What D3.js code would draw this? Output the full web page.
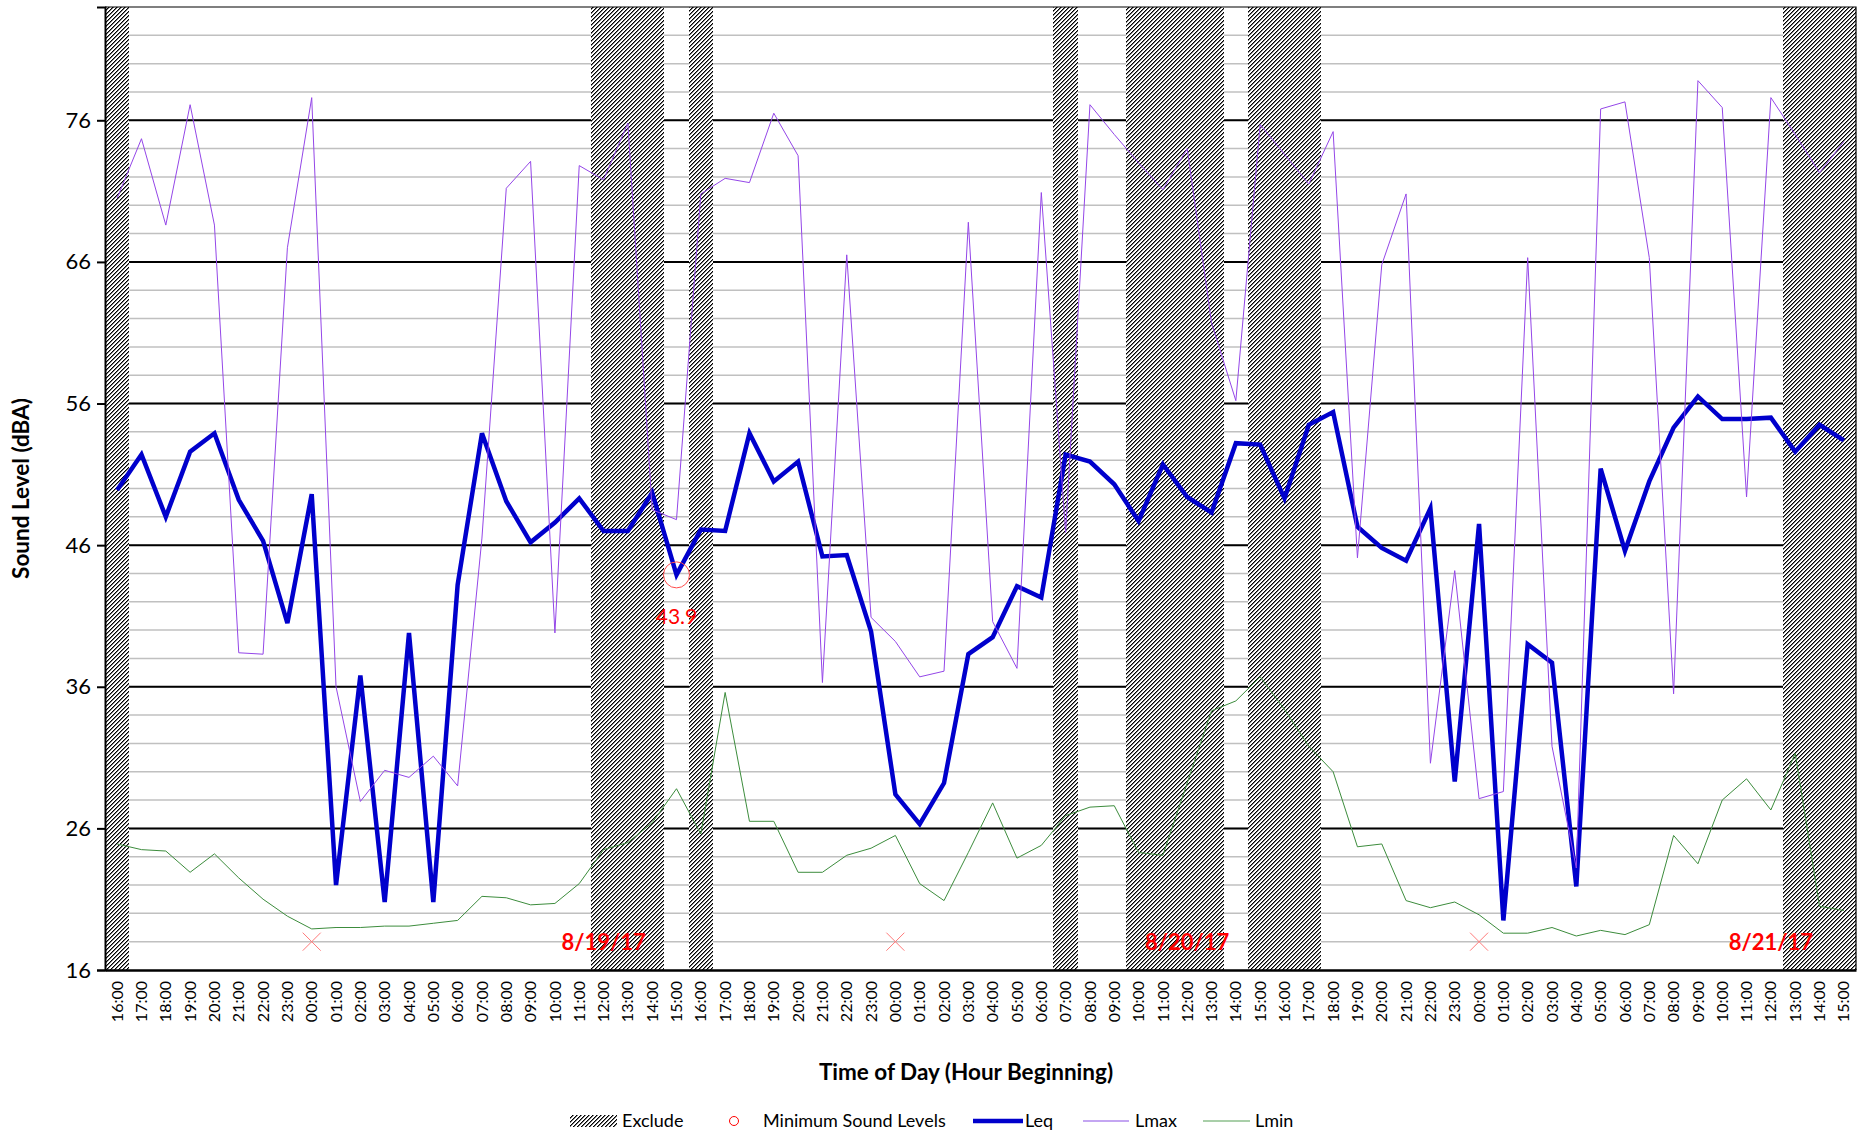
<!DOCTYPE html>
<html>
<head>
<meta charset="utf-8">
<script src="https://cdn.jsdelivr.net/npm/d3@7/dist/d3.min.js"></script>
<style>
  body { margin: 0; background: #fff; }
  svg text { font-family: Lato, 'Open Sans', sans-serif; }
</style>
</head>
<body>
<svg id="chart" width="1874" height="1133"></svg>
<script>
// hour-beginning labels, 16:00 on 8/18 through 15:00 on 8/21
const hours = [
  '16:00','17:00','18:00','19:00','20:00','21:00','22:00','23:00',
  '00:00','01:00','02:00','03:00','04:00','05:00','06:00','07:00','08:00','09:00','10:00','11:00',
  '12:00','13:00','14:00','15:00','16:00','17:00','18:00','19:00','20:00','21:00','22:00','23:00',
  '00:00','01:00','02:00','03:00','04:00','05:00','06:00','07:00','08:00','09:00','10:00','11:00',
  '12:00','13:00','14:00','15:00','16:00','17:00','18:00','19:00','20:00','21:00','22:00','23:00',
  '00:00','01:00','02:00','03:00','04:00','05:00','06:00','07:00','08:00','09:00','10:00','11:00',
  '12:00','13:00','14:00','15:00'
]

const leq = [
  49.9, 52.4, 48.0, 52.6, 53.9, 49.2, 46.3, 40.5,
  49.6, 22.0, 36.8, 20.8, 39.8, 20.8, 43.2, 53.9, 49.1, 46.2, 47.6, 49.3,
  47.0, 47.0, 49.7, 43.9, 47.1, 47.0, 53.9, 50.5, 51.9, 45.2, 45.3, 39.9,
  28.4, 26.3, 29.2, 38.3, 39.5, 43.1, 42.3, 52.4, 51.9, 50.3, 47.7, 51.7,
  49.4, 48.3, 53.2, 53.1, 49.3, 54.5, 55.4, 47.3, 45.8, 44.9, 48.6, 29.3,
  47.5, 19.5, 39.0, 37.7, 21.9, 51.4, 45.6, 50.5, 54.3, 56.5, 54.9, 54.9,
  55.0, 52.6, 54.5, 53.4
]

const lmax = [
  70.5, 74.7, 68.6, 77.1, 68.6, 38.4, 38.3, 67.0,
  77.6, 36.0, 27.9, 30.1, 29.6, 31.1, 29.0, 46.5, 71.2, 73.1, 39.8, 72.8,
  71.8, 75.8, 48.5, 47.8, 70.8, 71.9, 71.6, 76.5, 73.5, 36.3, 66.5, 40.9,
  39.2, 36.7, 37.1, 68.8, 40.6, 37.3, 70.9, 46.9, 77.1, 75.0, 73.0, 71.1,
  74.0, 61.7, 56.2, 75.7, 73.6, 71.5, 75.2, 45.1, 65.8, 70.8, 30.6, 44.2,
  28.1, 28.6, 66.3, 31.8, 23.2, 76.8, 77.3, 66.3, 35.5, 78.8, 76.9, 49.4,
  77.6, 75.0, 72.3, 74.5
]

const lmin = [
  24.9, 24.5, 24.4, 22.9, 24.2, 22.5, 21.0, 19.8,
  18.9, 19.0, 19.0, 19.1, 19.1, 19.3, 19.5, 21.2, 21.1, 20.6, 20.7, 22.1,
  24.5, 25.0, 26.4, 28.8, 25.6, 35.6, 26.5, 26.5, 22.9, 22.9, 24.1, 24.6,
  25.5, 22.1, 20.9, 24.3, 27.8, 23.9, 24.8, 26.9, 27.5, 27.6, 24.3, 24.1,
  29.2, 34.3, 35.0, 36.7, 34.4, 31.8, 30.0, 24.7, 24.9, 20.9, 20.4, 20.8,
  19.9, 18.6, 18.6, 19.0, 18.4, 18.8, 18.5, 19.2, 25.5, 23.5, 28.0, 29.5,
  27.3, 31.3, 20.5, 20.2
]

// hours flagged as excluded (hatched columns)
const excludeIdx = [0, 20, 21, 22, 24, 39, 42, 43, 44, 45, 47, 48, 49, 69, 70, 71]

// midnight markers and date labels
const midnightIdx = [8, 32, 56]
const midnightLevel = [18, 18, 18]
const dateLabels = ['8/19/17', '8/20/17', '8/21/17']
const dateIdx = [20, 44, 68]
const dateLevel = [18, 18, 18]

// lowest hourly Leq
const minLeqIdx = [23]

const yMajor = [16, 26, 36, 46, 56, 66, 76]

const COLORS = {
  leq: '#0000cc',
  lmax: '#9446e8',
  lmin: '#3c8c3c',
  red: '#ff0000',
}

const margin = { left: 105, right: 1856, top: 7, bottom: 970 }

const svg = d3.select('#chart')

// pixel hatch, upward diagonal
const defs = svg.append('defs')
const pat = defs.append('pattern')
  .attr('id', 'hatch')
  .attr('patternUnits', 'userSpaceOnUse')
  .attr('width', 4)
  .attr('height', 4)
pat.append('rect').attr('width', 4).attr('height', 4).attr('fill', '#fff')
pat.selectAll('rect.px')
  .data([[3, 0, '#000'], [0, 0, '#777'], [2, 1, '#000'], [3, 1, '#777'],
         [1, 2, '#000'], [2, 2, '#777'], [0, 3, '#000'], [1, 3, '#777']])
  .join('rect')
  .attr('class', 'px')
  .attr('x', (d) => d[0])
  .attr('y', (d) => d[1])
  .attr('width', 1)
  .attr('height', 1)
  .attr('fill', (d) => d[2])
  .attr('shape-rendering', 'crispEdges')

const x = d3.scaleBand()
  .domain(d3.range(hours.length))
  .range([margin.left, margin.right])
  .paddingInner(0)
  .paddingOuter(0)
const cx = (i) => x(i) + x.bandwidth() / 2

const y = d3.scaleLinear().domain([16, 84]).range([margin.bottom, margin.top])

// minor gridlines every 2 dB
svg.append('g')
  .selectAll('line')
  .data(d3.range(18, 84, 2))
  .join('line')
  .attr('x1', margin.left).attr('x2', margin.right)
  .attr('y1', (d) => y(d)).attr('y2', (d) => y(d))
  .attr('stroke', '#c0c0c0')
  .attr('stroke-width', 1.5)

// major gridlines
svg.append('g')
  .selectAll('line')
  .data(yMajor.slice(1))
  .join('line')
  .attr('x1', margin.left).attr('x2', margin.right)
  .attr('y1', (d) => y(d)).attr('y2', (d) => y(d))
  .attr('stroke', '#000')
  .attr('stroke-width', 2)

// excluded hours
svg.append('g')
  .selectAll('rect')
  .data(excludeIdx)
  .join('rect')
  .attr('x', (d) => Math.round(x(d)))
  .attr('width', (d) => Math.round(x(d) + x.bandwidth()) - Math.round(x(d)))
  .attr('y', y(84))
  .attr('height', y(16) - y(84))
  .attr('fill', 'url(#hatch)')
  .attr('shape-rendering', 'crispEdges')

// plot border (top/right)
svg.append('path')
  .attr('d', `M${margin.left},${margin.top}H${margin.right}V${margin.bottom}`)
  .attr('fill', 'none')
  .attr('stroke', '#000')
  .attr('stroke-width', 1.2)

const line = d3.line().x((d, i) => cx(i)).y((d) => y(d))

svg.append('path').datum(leq)
  .attr('d', line)
  .attr('fill', 'none')
  .attr('stroke', COLORS.leq)
  .attr('stroke-width', 4.5)
  .attr('stroke-linejoin', 'miter')

svg.append('path').datum(lmax)
  .attr('d', line)
  .attr('fill', 'none')
  .attr('stroke', COLORS.lmax)
  .attr('stroke-width', 1)

svg.append('path').datum(lmin)
  .attr('d', line)
  .attr('fill', 'none')
  .attr('stroke', COLORS.lmin)
  .attr('stroke-width', 1)

// x markers at midnight
svg.append('g')
  .selectAll('path')
  .data(midnightIdx)
  .join('path')
  .attr('d', (d, k) => {
    const px = cx(d), py = y(midnightLevel[k]), s = 9
    return `M${px - s},${py - s}L${px + s},${py + s}M${px - s},${py + s}L${px + s},${py - s}`
  })
  .attr('stroke', '#ff7a7a')
  .attr('stroke-width', 1)

// date labels
svg.append('g')
  .selectAll('text')
  .data(dateLabels)
  .join('text')
  .attr('x', (d, k) => cx(dateIdx[k]))
  .attr('y', (d, k) => y(dateLevel[k]))
  .attr('dy', '0.36em')
  .attr('text-anchor', 'middle')
  .attr('font-size', 22)
  .attr('font-weight', 'bold')
  .attr('fill', COLORS.red)
  .text((d) => d)

// minimum Leq circle + label
const minG = svg.append('g')
minG.selectAll('circle')
  .data(minLeqIdx)
  .join('circle')
  .attr('cx', (d) => cx(d))
  .attr('cy', (d) => y(leq[d]))
  .attr('r', 13)
  .attr('fill', 'none')
  .attr('stroke', '#ff4d4d')
  .attr('stroke-width', 1)
minG.selectAll('text')
  .data(minLeqIdx)
  .join('text')
  .attr('x', (d) => cx(d))
  .attr('y', (d) => y(leq[d]) + 49)
  .attr('text-anchor', 'middle')
  .attr('font-size', 21)
  .attr('fill', COLORS.red)
  .text((d) => leq[d].toFixed(1))

// y axis
const yAxis = svg.append('g')
  .attr('transform', `translate(${margin.left},0)`)
  .call(d3.axisLeft(y).tickValues(yMajor).tickSize(8).tickPadding(6).tickFormat(d3.format('d')))
yAxis.select('.domain').attr('stroke', '#000').attr('stroke-width', 2)
yAxis.selectAll('.tick line').attr('stroke', '#000').attr('stroke-width', 2)
yAxis.selectAll('.tick text')
  .attr('font-size', 22)
  .attr('font-family', 'Lato, sans-serif')
  .attr('fill', '#000')

// x axis
const xAxis = svg.append('g')
  .attr('transform', `translate(0,${margin.bottom})`)
  .call(d3.axisBottom(x).tickSize(0).tickFormat((i) => hours[i]))
xAxis.select('.domain').attr('stroke', '#000').attr('stroke-width', 2.5)
xAxis.selectAll('.tick text')
  .attr('font-family', "'DejaVu Sans Mono', monospace")
  .attr('font-size', 16)
  .attr('fill', '#000')
  .attr('text-anchor', 'end')
  .attr('y', 0)
  .attr('dy', '0.35em')
  .attr('transform', 'translate(0,11) rotate(-90)')

// axis titles
svg.append('text')
  .attr('transform', `translate(29,${(margin.top + margin.bottom) / 2}) rotate(-90)`)
  .attr('text-anchor', 'middle')
  .attr('font-size', 22.5)
  .attr('font-weight', 'bold')
  .text('Sound Level (dBA)')

svg.append('text')
  .attr('x', 966)
  .attr('y', 1080)
  .attr('text-anchor', 'middle')
  .attr('font-size', 22.5)
  .attr('font-weight', 'bold')
  .text('Time of Day (Hour Beginning)')

// legend
const ly = 1121
const legend = svg.append('g').attr('font-size', 18)
legend.append('rect')
  .attr('x', 570).attr('y', ly - 6).attr('width', 47).attr('height', 12)
  .attr('fill', 'url(#hatch)')
  .attr('shape-rendering', 'crispEdges')
legend.append('text').attr('x', 622).attr('y', ly).attr('dy', '0.35em').text('Exclude')
legend.append('circle')
  .attr('cx', 734).attr('cy', ly).attr('r', 4.5)
  .attr('fill', 'none').attr('stroke', COLORS.red).attr('stroke-width', 1)
legend.append('text').attr('x', 763).attr('y', ly).attr('dy', '0.35em').text('Minimum Sound Levels')
legend.append('line')
  .attr('x1', 973).attr('x2', 1023).attr('y1', ly).attr('y2', ly)
  .attr('stroke', COLORS.leq).attr('stroke-width', 4.5)
legend.append('text').attr('x', 1025).attr('y', ly).attr('dy', '0.35em').text('Leq')
legend.append('line')
  .attr('x1', 1083).attr('x2', 1129).attr('y1', ly).attr('y2', ly)
  .attr('stroke', '#c4a6f2').attr('stroke-width', 2)
legend.append('text').attr('x', 1135).attr('y', ly).attr('dy', '0.35em').text('Lmax')
legend.append('line')
  .attr('x1', 1203).attr('x2', 1250).attr('y1', ly).attr('y2', ly)
  .attr('stroke', '#a9cfa9').attr('stroke-width', 2)
legend.append('text').attr('x', 1255).attr('y', ly).attr('dy', '0.35em').text('Lmin')
</script>
</body>
</html>
